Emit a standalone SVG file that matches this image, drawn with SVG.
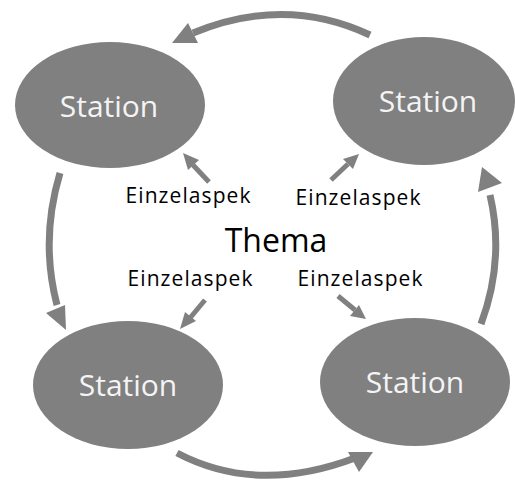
<svg xmlns="http://www.w3.org/2000/svg" width="515" height="480" viewBox="0 0 515 480">
<style>
.node ellipse{fill:#808080}
.node text{fill:#f4f4f4;font-family:"Open Sans","DejaVu Sans",sans-serif;font-size:30px;text-anchor:middle}
.lbl{fill:#000;font-family:"Open Sans","DejaVu Sans",sans-serif;font-size:21px;text-anchor:middle}
.big{fill:none;stroke:#808080;stroke-width:7}
.sm{fill:none;stroke:#808080;stroke-width:5}
.head{fill:#808080}
</style>
<rect width="515" height="480" fill="#fff"/>
<g id="connectors">
<path class="big" d="M370,35 Q285,-5 193,33"/>
<polygon class="head" points="172,43 188,23 198,43"/>
<path class="big" d="M60,173 Q40,240 57,305"/>
<polygon class="head" points="46,313 65,305 66,330"/>
<path class="big" d="M177,453 Q257,495 355,458"/>
<polygon class="head" points="348,452 373,452 359,472"/>
<path class="big" d="M481,324 Q505,260 490,195"/>
<polygon class="head" points="482,167 478,192 502,183"/>
<line class="sm" x1="209" y1="182" x2="193" y2="165"/>
<polygon class="head" points="183,153 188,170 199,160"/>
<line class="sm" x1="331" y1="180" x2="348" y2="164"/>
<polygon class="head" points="359,154 343,159 353,169"/>
<line class="sm" x1="205" y1="300" x2="190" y2="318"/>
<polygon class="head" points="180,329 185,312 196,321"/>
<line class="sm" x1="338" y1="296" x2="355" y2="310"/>
<polygon class="head" points="366,319 350,316 359,305"/>
</g>
<g id="station-tl" class="node"><ellipse cx="110" cy="105" rx="95" ry="63"/><text x="109" y="117">Station</text></g>
<g id="station-tr" class="node"><ellipse cx="424" cy="101" rx="91" ry="64"/><text x="428" y="112">Station</text></g>
<g id="station-bl" class="node"><ellipse cx="128" cy="385" rx="95" ry="64"/><text x="128" y="396">Station</text></g>
<g id="station-br" class="node"><ellipse cx="415" cy="382" rx="95" ry="64"/><text x="415" y="393">Station</text></g>
<g id="thema"><text class="lbl" x="276" y="252" style="font-size:32px">Thema</text></g>
<g id="aspects">
<text class="lbl" x="188" y="203" textLength="125">Einzelaspek</text>
<text class="lbl" x="358" y="205" textLength="125">Einzelaspek</text>
<text class="lbl" x="190" y="286" textLength="125">Einzelaspek</text>
<text class="lbl" x="360" y="286" textLength="125">Einzelaspek</text>
</g>
</svg>
